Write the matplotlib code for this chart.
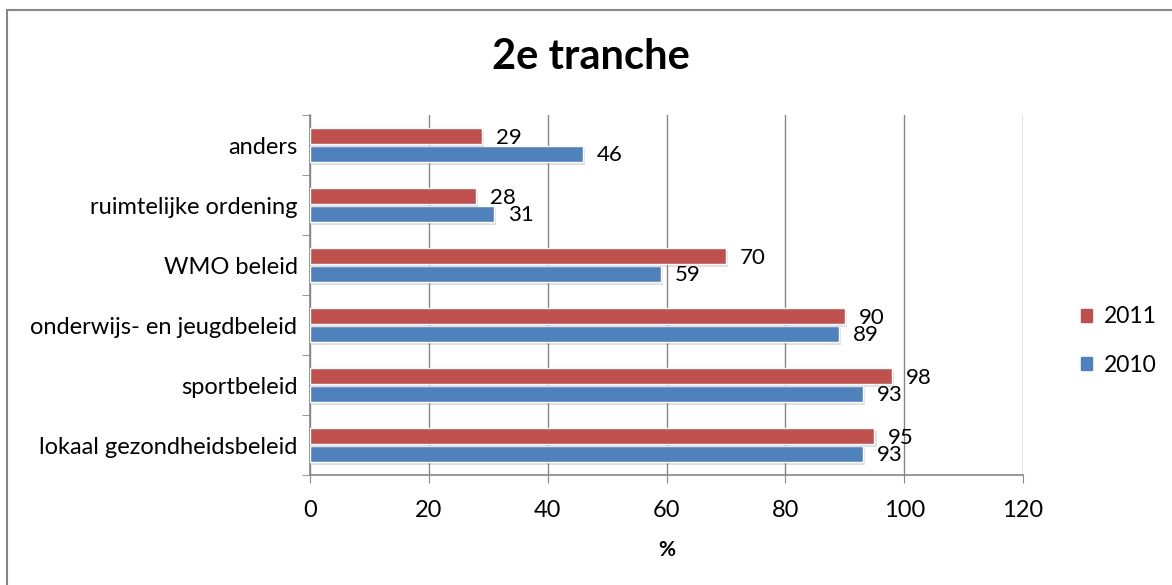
import numpy as np
import matplotlib.pyplot as plt
from matplotlib.patches import Rectangle, Patch
import matplotlib.patheffects as pe

plt.rcParams['font.family'] = ['Lato', 'DejaVu Sans']

# categories from bottom to top (as drawn)
categories = ['lokaal gezondheidsbeleid', 'sportbeleid', 'onderwijs- en jeugdbeleid',
              'WMO beleid', 'ruimtelijke ordening', 'anders']
vals_2011 = [95, 98, 90, 70, 28, 29]
vals_2010 = [93, 93, 89, 59, 31, 46]

red = '#C0504D'
blue = '#4F81BD'
grid_c = '#868686'

fig = plt.figure(figsize=(11.72, 5.85), dpi=100)
ax = fig.add_axes([310/1172, 110/585, 713/1172, 360/585])

y = np.arange(len(categories))
h = 0.27
shadow = [pe.SimplePatchShadow(offset=(1.5, -2), shadow_rgbFace='gray', alpha=0.25), pe.Normal()]

b10 = ax.barh(y - h/2 - 0.01, vals_2010, height=h, color=blue, edgecolor='white', linewidth=1, zorder=3)
b11 = ax.barh(y + h/2 + 0.01, vals_2011, height=h, color=red, edgecolor='white', linewidth=1, zorder=3)
for b in list(b10) + list(b11):
    b.set_path_effects(shadow)

for bars, vals in ((b11, vals_2011), (b10, vals_2010)):
    for bar, v in zip(bars, vals):
        ax.annotate(str(v), (v, bar.get_y() + bar.get_height()/2),
                    xytext=(10, -1), textcoords='offset points',
                    ha='left', va='center', fontsize=16, zorder=4)

ax.set_xlim(0, 120)
ax.set_ylim(-0.5, len(categories) - 0.5)
ax.set_xticks(np.arange(0, 121, 20))
ax.tick_params(axis='x', length=6, color=grid_c, labelsize=17, pad=12)
ax.set_yticks(y)
ax.set_yticklabels(categories)
ax.tick_params(axis='y', length=0, labelsize=17, pad=9)
ax.set_yticks(np.arange(-0.5, len(categories)), minor=True)
ax.tick_params(axis='y', which='minor', length=6, color=grid_c)

ax.grid(axis='x', color=grid_c, linewidth=1, zorder=0)
for s in ('top', 'right'):
    ax.spines[s].set_visible(False)
for s in ('left', 'bottom'):
    ax.spines[s].set_color(grid_c)
    ax.spines[s].set_linewidth(1.2)

ax.set_xlabel('%', fontsize=15, fontweight='bold', labelpad=14)
fig.text(591/1172, 1 - 57/585, '2e tranche', ha='center', va='center',
         fontsize=30, fontweight='bold')

handles = [Patch(color=red, label='2011'), Patch(color=blue, label='2010')]
fig.legend(handles=handles, loc='center left', bbox_to_anchor=(1060/1172, 1 - 341/585),
           frameon=False, fontsize=16.5, handlelength=0.5, handleheight=0.5,
           handletextpad=0.5, labelspacing=1.2)

fig.patches.append(Rectangle((7/1172, -0.1), 1.2, 1.083, transform=fig.transFigure,
                             fill=False, edgecolor=grid_c, linewidth=1.5))

fig.savefig('out.png', dpi=100)
